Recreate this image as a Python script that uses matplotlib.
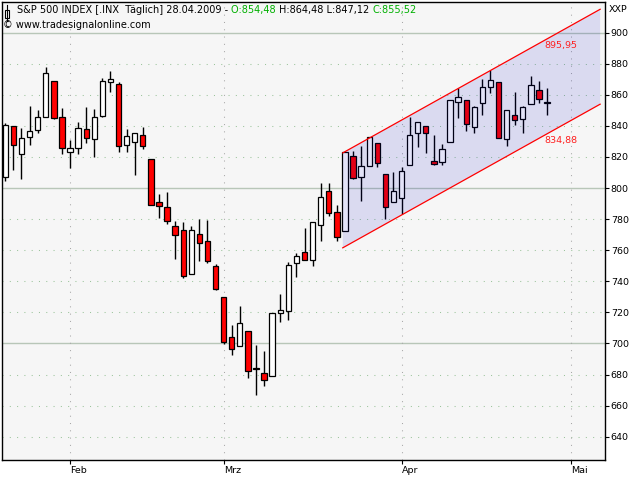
import numpy as np
import matplotlib
matplotlib.use("Agg")
import matplotlib.pyplot as plt
from matplotlib.patches import Rectangle, Polygon
from matplotlib.lines import Line2D

# Tageskerzen S&P 500, 21.01.2009 - 28.04.2009
dates = ['2009-01-21', '2009-01-22', '2009-01-23', '2009-01-26', '2009-01-27', '2009-01-28',
         '2009-01-29', '2009-01-30', '2009-02-02', '2009-02-03', '2009-02-04', '2009-02-05',
         '2009-02-06', '2009-02-09', '2009-02-10', '2009-02-11', '2009-02-12', '2009-02-13',
         '2009-02-17', '2009-02-18', '2009-02-19', '2009-02-20', '2009-02-23', '2009-02-24',
         '2009-02-25', '2009-02-26', '2009-02-27', '2009-03-02', '2009-03-03', '2009-03-04',
         '2009-03-05', '2009-03-06', '2009-03-09', '2009-03-10', '2009-03-11', '2009-03-12',
         '2009-03-13', '2009-03-16', '2009-03-17', '2009-03-18', '2009-03-19', '2009-03-20',
         '2009-03-23', '2009-03-24', '2009-03-25', '2009-03-26', '2009-03-27', '2009-03-30',
         '2009-03-31', '2009-04-01', '2009-04-02', '2009-04-03', '2009-04-06', '2009-04-07',
         '2009-04-08', '2009-04-09', '2009-04-13', '2009-04-14', '2009-04-15', '2009-04-16',
         '2009-04-17', '2009-04-20', '2009-04-21', '2009-04-22', '2009-04-23', '2009-04-24',
         '2009-04-27', '2009-04-28']
opens = [806.77, 839.74, 822.16, 832.50, 837.30, 845.73, 868.89, 845.69, 823.09, 825.69,
         837.77, 831.75, 846.09, 868.24, 866.87, 827.41, 829.91, 833.95, 818.61, 791.06,
         787.91, 775.87, 773.25, 744.69, 770.64, 765.76, 749.93, 729.57, 704.44, 698.60,
         708.27, 684.04, 680.76, 679.28, 719.59, 720.89, 751.97, 758.84, 753.88, 776.01,
         797.92, 784.58, 772.10, 820.60, 806.81, 814.06, 828.68, 809.07, 790.88, 793.59,
         814.53, 835.13, 839.75, 817.60, 816.76, 829.29, 855.33, 856.88, 839.44, 854.54,
         865.18, 868.27, 831.25, 847.26, 844.62, 853.91, 862.82, 854.48]
highs = [841.72, 839.74, 838.61, 852.53, 850.45, 877.86, 868.89, 851.66, 830.78, 842.60,
         851.85, 850.55, 870.75, 875.01, 868.05, 838.22, 835.48, 839.43, 818.61, 796.17,
         797.58, 778.69, 777.85, 775.49, 780.12, 779.42, 751.27, 729.57, 711.67, 724.12,
         708.27, 699.09, 695.27, 719.60, 731.92, 752.63, 758.29, 774.53, 778.12, 803.04,
         803.24, 788.91, 823.37, 823.65, 826.78, 832.98, 828.68, 809.07, 810.48, 813.62,
         845.61, 842.50, 839.75, 834.12, 828.42, 856.91, 864.31, 856.88, 852.93, 870.35,
         875.63, 868.27, 850.09, 861.78, 852.87, 871.80, 868.83, 864.48]
lows = [804.30, 811.29, 806.07, 827.69, 835.40, 845.73, 844.15, 821.67, 812.87, 821.98,
        829.18, 819.91, 845.42, 861.65, 822.99, 822.98, 808.06, 825.21, 789.17, 780.43,
        777.03, 754.25, 742.37, 744.69, 752.89, 751.75, 734.52, 699.70, 692.30, 698.60,
        677.93, 666.79, 672.88, 679.28, 713.85, 714.76, 742.46, 753.37, 749.93, 765.64,
        781.82, 766.20, 772.10, 805.48, 791.37, 814.06, 813.43, 779.81, 790.88, 783.32,
        814.53, 826.70, 822.79, 814.53, 814.84, 829.29, 845.35, 836.88, 835.58, 847.04,
        860.87, 832.39, 826.83, 840.57, 835.45, 853.91, 854.65, 847.12]
closes = [840.24, 827.50, 831.95, 836.57, 845.71, 874.09, 845.14, 825.88, 825.44, 838.51,
          832.23, 845.85, 868.60, 869.89, 827.16, 833.74, 835.19, 826.84, 789.17, 788.42,
          778.94, 770.05, 743.33, 773.14, 764.90, 752.83, 735.09, 700.82, 696.33, 712.87,
          682.55, 683.38, 676.53, 719.60, 721.36, 750.74, 756.55, 753.89, 778.12, 794.35,
          784.04, 768.54, 822.92, 806.12, 813.88, 832.86, 815.94, 787.53, 797.87, 811.08,
          834.38, 842.50, 835.48, 815.55, 825.16, 856.56, 858.73, 841.50, 852.06, 865.30,
          869.60, 832.39, 850.08, 843.55, 851.92, 866.23, 857.51, 855.52]
# weitere Handelstage (leer) fuer die Zeitachse
future_days = ['2009-04-29', '2009-04-30', '2009-05-01', '2009-05-04', '2009-05-05',
               '2009-05-06', '2009-05-07']
month_labels = ['Feb', 'Mrz', 'Apr', 'Mai']
month_starts = ['2009-02-02', '2009-03-02', '2009-04-01', '2009-05-01']

# Trendkanal
channel_anchor_date = '2009-03-23'
channel_anchor_value = 823.37
channel_upper_now = 895.95
channel_lower_now = 834.88

y_ticks = list(range(640, 901, 20))
y_major = [700, 800, 900]

sessions = dates + future_days
x = np.arange(len(dates))
o = np.array(opens); h = np.array(highs); l = np.array(lows); c = np.array(closes)

plt.rcParams['font.family'] = ['DejaVu Sans']
fig = plt.figure(figsize=(6.4, 4.8), dpi=100)
fig.patch.set_facecolor('white')
W, H = 640.0, 480.0
ax = fig.add_axes([2 / W, 1 - 460 / H, 602.5 / W, 458.5 / H])
ax.set_facecolor('#f6f6f6')
ax.set_xlim(-0.41, 74.1)
ax.set_ylim(625, 920)

# Gitter
for v in y_ticks:
    if v in y_major:
        ax.axhline(v, color='#b8c6b8', lw=1.0, zorder=0)
    else:
        ax.axhline(v, color='#9cc49c', lw=0.75, ls=(0, (1, 6)), zorder=0)
month_x = [sessions.index(d) for d in month_starts]
for mx in month_x:
    ax.axvline(mx, color='#a8a8a8', lw=0.75, ls=(0, (1, 6)), zorder=0)

# Kerzen
up = c >= o
ax.vlines(x, l, h, color='black', lw=1.0, zorder=2)
body_lo = np.minimum(o, c)
body_h = np.maximum(np.abs(c - o), 0.6)
ax.bar(x, body_h, bottom=body_lo, width=0.66,
       color=np.where(up, 'white', '#ff0000'), edgecolor='black', linewidth=0.9, zorder=3)

# Trendkanal
i_anchor = dates.index(channel_anchor_date)
i_last = len(dates) - 1
slope = (channel_upper_now - channel_anchor_value) / (i_last - i_anchor)
x0, x1 = i_anchor - 0.27, i_last + 6.56
up0 = channel_upper_now + slope * (x0 - i_last)
up1 = channel_upper_now + slope * (x1 - i_last)
lo0 = channel_lower_now + slope * (x0 - i_last)
lo1 = channel_lower_now + slope * (x1 - i_last)
ax.add_patch(Polygon([[x0, up0], [x1, up1], [x1, lo1], [x0, lo0]], closed=True,
                     facecolor='#0000c8', alpha=0.11, edgecolor='none', zorder=4))
ax.plot([x0, x1], [up0, up1], color='#ff0000', lw=0.9, zorder=5)
ax.plot([x0, x1], [lo0, lo1], color='#ff0000', lw=0.9, zorder=5)
for val in (channel_upper_now, channel_lower_now):
    ax.annotate(f'{val:.2f}'.replace('.', ','), xy=(70.8, val), xytext=(0, -1.5),
                textcoords='offset points', ha='right', va='top', color='#ff2020',
                fontsize=6.8, zorder=6)

# Achsen
ax.yaxis.tick_right()
ax.set_yticks(y_ticks)
ax.set_yticklabels([str(v) for v in y_ticks])
ax.set_xticks(month_x)
ax.set_xticklabels(month_labels)
for lbl in ax.get_xticklabels():
    lbl.set_horizontalalignment('left')
ax.tick_params(axis='both', direction='out', length=3, width=0.8, labelsize=6.8,
               colors='black', pad=1.5)
ax.tick_params(axis='x', pad=1.0)
for s in ax.spines.values():
    s.set_linewidth(1.0)
    s.set_color('black')

# Kopfzeile
def fx(px):
    return px / W

def fy(py):
    return 1 - py / H

fig.text(fx(609), fy(10), 'XXP', fontsize=6.8, va='center', ha='left')
fig.add_artist(Line2D([fx(6.5), fx(6.5)], [fy(5), fy(21)], color='black', lw=0.8))
fig.add_artist(Rectangle((fx(4.5), fy(18)), 4 / W, 8.5 / H, transform=fig.transFigure,
                         facecolor='white', edgecolor='black', lw=0.8))

renderer = fig.canvas.get_renderer()
segments = [('S&P 500 INDEX [.INX  Täglich] 28.04.2009 - ', 'black'),
            ('O:854,48 ', '#00b000'),
            ('H:864,48 L:847,12 ', 'black'),
            ('C:855,52', '#00b000')]
cur = 17.0
for txt, col in segments:
    t = fig.text(fx(cur), fy(10), txt, fontsize=7.05, color=col, va='center', ha='left')
    bb = t.get_window_extent(renderer=renderer)
    cur += bb.width
fig.text(fx(3), fy(25), '© www.tradesignalonline.com', fontsize=7.05, va='center', ha='left')

fig.savefig('out.png', dpi=100)
